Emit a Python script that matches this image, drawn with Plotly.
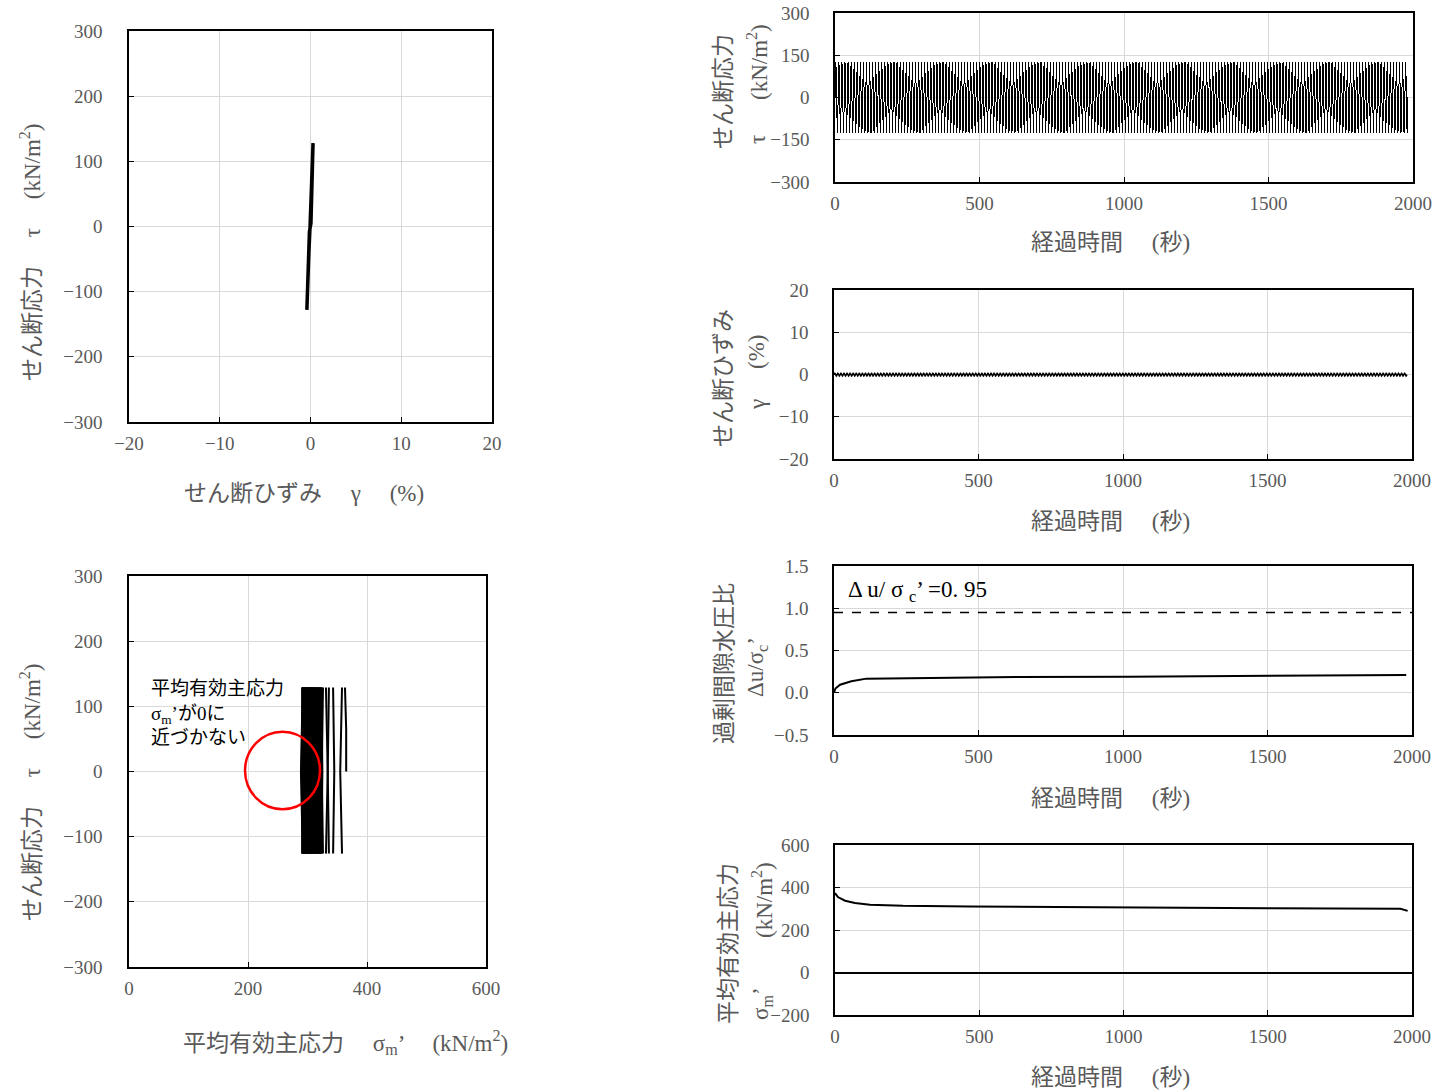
import numpy as np
import plotly.graph_objects as go

W, H = 1432, 1092
OFF = 0

# ---------------- data ----------------
# cyclic loading (constant amplitude)
cycle_period_s = 10.6
n_cycles = 187
tau_wave = [0, 48, 89, 116, 126, 116, 89, 48, 0, -48, -89, -116, -126, -116, -89, -48]   # kN/m2
gamma_wave = [0, 0.12, 0.22, 0.28, 0.30, 0.28, 0.22, 0.12, 0, -0.13, -0.25, -0.32, -0.35, -0.32, -0.25, -0.13]  # %

# stress-strain loop (top-left)
ss_gamma = [-0.40, -0.30, -0.22, -0.12, 0.05, 0.12, 0.20, 0.28, 0.20, 0.10, -0.05, -0.18, -0.30, -0.40]
ss_tau = [-128, -80, -40, -8, 5, 40, 90, 128, 90, 40, 0, -40, -90, -128]

# effective stress path (bottom-left): sigma_m' of each loading stroke and its mid wiggle
stroke_sigma = [363, 358, 343, 336, 331, 326, 323, 321, 319, 317, 316, 314, 313, 311,
                310, 309, 308, 306, 305, 304, 303, 302, 301, 300, 299, 298, 297, 296,
                295, 294, 293, 292, 291, 292, 294, 296, 298, 300, 302, 304, 306, 308,
                310, 312, 314, 316, 318, 320, 322, 324, 321, 317, 313, 309, 305, 301,
                297, 293, 292]
stroke_wiggle = [2, -3, 2, -2, 3, -2, 2, -3, 2, -2, 3, -2, 2, -2, 3, -3, 2, -2, 2, -3,
                 2, -2, 3, -2, 2, -2, 3, -3, 2, -2, 2, -3, 2, -2, 3, -2, 2, -2, 3, -3,
                 2, -2, 2, -3, 2, -2, 3, -2, 2, -2, 3, -3, 2, -2, 2, -3, 2, -2, 2]
tau_top, tau_bottom = 129, -126

# excess pore water pressure ratio
du_t = [0, 5, 21, 60, 112, 267, 630, 1020, 1540, 1980]
du_v = [0.0, 0.05, 0.095, 0.135, 0.167, 0.175, 0.187, 0.19, 0.20, 0.21]
du_limit = 0.95

# mean effective principal stress
sm_t = [0, 10, 35, 69, 121, 236, 468, 1000, 1500, 1960, 1985]
sm_v = [374, 355, 338, 327, 319, 314, 311, 305, 302, 300, 290]

# ---------------- build series ----------------
npc = len(tau_wave)
t_cyc = np.arange(n_cycles * npc + 1) * cycle_period_s / npc
tau_series = np.append(np.tile(tau_wave, n_cycles), 0)
gamma_series = np.append(np.tile(gamma_wave, n_cycles), 0)

# stress path: each loading stroke drawn as its own near-vertical line
path_x = [stroke_sigma[0] + 2, stroke_sigma[0] + stroke_wiggle[0], stroke_sigma[0], None]
path_y = [0, tau_top / 2, tau_top, None]
for i in range(1, len(stroke_sigma)):
    going_down = (i % 2 == 1)
    y0, y1 = (tau_top, tau_bottom) if going_down else (tau_bottom, tau_top)
    s = stroke_sigma[i]
    path_x += [s, s + stroke_wiggle[i], s, None]
    path_y += [y0, 0, y1, None]

SERIF = "Liberation Serif, Noto Sans CJK JP, serif"
GREY = "#595959"
TICKFONT = dict(family=SERIF, size=19, color=GREY)


def px(x):
    return (x - OFF) / W


def py(y):
    return 1 - (y - OFF) / H


def ax(domain, rng, dtick, standoff=20, **kw):
    d = dict(domain=domain, range=rng, dtick=dtick, showline=True, linecolor="black",
             linewidth=1.5, mirror=True, showgrid=True, gridcolor="#d9d9d9", gridwidth=1,
             zeroline=False, ticks="inside", ticklen=5, tickcolor="black",
             tickfont=TICKFONT, ticklabelstandoff=standoff, fixedrange=True,
             automargin=False)
    d.update(kw)
    return d


fig = go.Figure()

fig.add_trace(go.Scatter(x=ss_gamma, y=ss_tau, mode="lines", line=dict(color="black", width=3.5),
                         xaxis="x", yaxis="y", showlegend=False))
fig.add_trace(go.Scatter(x=path_x, y=path_y, mode="lines", line=dict(color="black", width=2),
                         connectgaps=False, xaxis="x2", yaxis="y2", showlegend=False))
fig.add_trace(go.Scatter(x=t_cyc, y=tau_series, mode="lines", line=dict(color="black", width=1),
                         xaxis="x3", yaxis="y3", showlegend=False))
fig.add_trace(go.Scatter(x=t_cyc, y=gamma_series, mode="lines", line=dict(color="black", width=1.5),
                         xaxis="x4", yaxis="y4", showlegend=False))
fig.add_trace(go.Scatter(x=du_t, y=du_v, mode="lines", line=dict(color="black", width=2),
                         xaxis="x5", yaxis="y5", showlegend=False))
fig.add_trace(go.Scatter(x=sm_t, y=sm_v, mode="lines", line=dict(color="black", width=2),
                         xaxis="x6", yaxis="y6", showlegend=False))

A_x = [px(129), px(492)]; A_y = [py(422), py(31)]
B_x = [px(129), px(486)]; B_y = [py(967), py(576)]
C_x = [px(835), px(1413)]; C_y = [py(182), py(13)]
D_x = [px(834), px(1412)]; D_y = [py(459), py(290)]
E_x = [px(834), px(1412)]; E_y = [py(735), py(566)]
F_x = [px(835), px(1412)]; F_y = [py(1015), py(845)]

XS, YS = 3, 20
fig.update_layout(
    width=W, height=H, margin=dict(l=0, r=0, t=0, b=0, autoexpand=False),
    paper_bgcolor="white", plot_bgcolor="white", showlegend=False,
    xaxis=ax(A_x, [-20, 20], 10, standoff=XS, anchor="y"),
    yaxis=ax(A_y, [-300, 300], 100, standoff=YS + 1, anchor="x"),
    xaxis2=ax(B_x, [0, 600], 200, standoff=XS, anchor="y2"),
    yaxis2=ax(B_y, [-300, 300], 100, standoff=YS + 1, anchor="x2"),
    xaxis3=ax(C_x, [0, 2000], 500, standoff=XS, anchor="y3"),
    yaxis3=ax(C_y, [-300, 300], 150, standoff=YS, anchor="x3"),
    xaxis4=ax(D_x, [0, 2000], 500, standoff=XS, anchor="y4"),
    yaxis4=ax(D_y, [-20, 20], 10, standoff=YS, anchor="x4"),
    xaxis5=ax(E_x, [0, 2000], 500, standoff=XS, anchor="y5"),
    yaxis5=ax(E_y, [-0.5, 1.5], 0.5, standoff=YS, anchor="x5", tickformat=".1f"),
    xaxis6=ax(F_x, [0, 2000], 500, standoff=XS, anchor="y6"),
    yaxis6=ax(F_y, [-200, 600], 200, standoff=YS, anchor="x6",
              zeroline=True, zerolinecolor="black", zerolinewidth=1.5),
)

# shapes
fig.add_shape(type="line", xref="x5", yref="y5", x0=0, x1=2000, y0=du_limit, y1=du_limit,
              line=dict(color="black", width=1.5, dash="dash"))
fig.add_shape(type="circle", xref="x2", yref="y2", x0=195, x1=321, y0=-58, y1=61,
              line=dict(color="red", width=2.5))

ann = []


def title(x, y, text, angle=0, size=23):
    ann.append(dict(x=px(x), y=py(y), xref="paper", yref="paper", text=text, showarrow=False,
                    textangle=angle, xanchor="center", yanchor="middle",
                    font=dict(family=SERIF, size=size, color=GREY)))


# left y titles
title(30, 252, "せん断応力　 τ　 (kN/m<sup>2</sup>)", -90)
title(30, 792, "せん断応力　 τ　 (kN/m<sup>2</sup>)", -90)
# left x titles
title(304, 494, "せん断ひずみ　 γ　 (%)")
title(345, 1042, "平均有効主応力　 σ<sub>m</sub>’　 (kN/m<sup>2</sup>)")
# right x titles
for yy in (243, 521, 798, 1077):
    title(1110, yy, "経過時間　 (秒)")
# right y titles (two columns)
title(723, 92, "せん断応力", -90)
title(757, 140, "τ", -90)
title(757, 62, "(kN/m<sup>2</sup>)", -90)
title(723, 378, "せん断ひずみ", -90)
title(757, 405, "γ", -90)
title(757, 352, "(%)", -90)
title(724, 664, "過剰間隙水圧比", -90)
title(757, 667, "Δu/σ<sub>c</sub>’", -90)
title(728, 944, "平均有効主応力", -90)
title(762, 1003, "σ<sub>m</sub>’", -90)
title(762, 900, "(kN/m<sup>2</sup>)", -90)

# in-plot annotations
ann.append(dict(x=px(149), y=py(676), xref="paper", yref="paper", showarrow=False,
                xanchor="left", yanchor="top", align="left",
                text="平均有効主応力<br>σ<sub>m</sub>’が0に<br>近づかない",
                font=dict(family=SERIF, size=19, color="black")))
ann.append(dict(x=px(846), y=py(591), xref="paper", yref="paper", showarrow=False,
                xanchor="left", yanchor="middle",
                text="Δ u/ σ <sub>c</sub>’ =0. 95",
                font=dict(family=SERIF, size=23, color="black")))

fig.update_layout(annotations=ann)

post = ("document.body.style.margin='0';document.body.style.overflow='hidden';"
        "document.querySelectorAll('.subplot.x3y3 .scatterlayer path.js-line')"
        ".forEach(function(p){p.style.shapeRendering='crispEdges';});")
fig.write_html("out.html", post_script=post, config={"displayModeBar": False})
